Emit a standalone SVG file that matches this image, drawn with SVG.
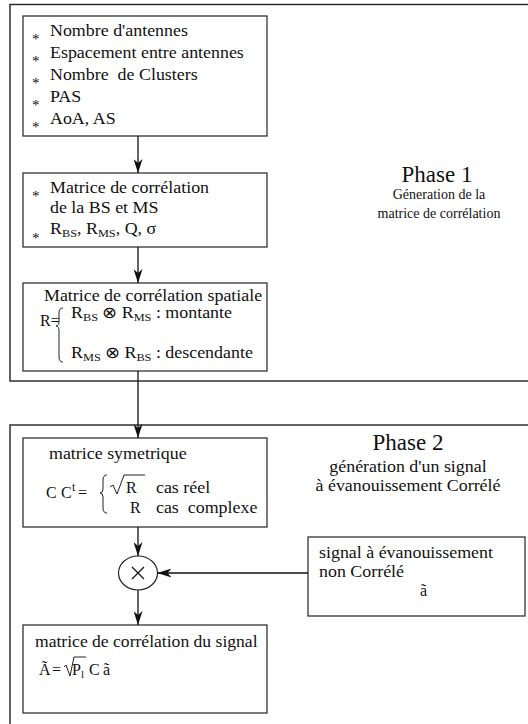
<svg xmlns="http://www.w3.org/2000/svg" width="528" height="724" viewBox="0 0 528 724">
<defs>
<marker id="arr" markerUnits="userSpaceOnUse" markerWidth="14" markerHeight="9" refX="14" refY="4.5" orient="auto">
<path d="M0,0 L14,4.5 L0,9 L4,4.5 z" fill="#111"/>
</marker>
</defs>
<style>
.box{fill:#fff;stroke:#333;stroke-width:1.3}
.outer{fill:none;stroke:#222;stroke-width:1.4}
.t{font-family:"Liberation Serif","Times New Roman",serif;font-size:16px;fill:#111}
.s{font-size:11px}
.b{font-family:"Liberation Serif",serif;font-size:15px;fill:#111}
.title{font-family:"Liberation Serif",serif;font-size:23px;fill:#111;text-anchor:middle}
.sub{font-family:"Liberation Serif",serif;font-size:14px;fill:#111;text-anchor:middle}
.sub2{font-family:"Liberation Serif",serif;font-size:16px;fill:#111;text-anchor:middle}
.ln{fill:none;stroke:#111;stroke-width:1.3}
.br{fill:none;stroke:#222;stroke-width:1}
</style>
<rect width="528" height="724" fill="#fff"/>
<g id="phase1">
<rect class="outer" x="10" y="4.5" width="530" height="376.5"/>
<text class="title" x="437" y="182">Phase 1</text>
<text class="sub" x="439" y="199">Géneration de la</text>
<text class="sub" x="439" y="218">matrice de corrélation</text>
</g>
<g id="phase2">
<rect class="outer" x="10" y="425" width="530" height="330"/>
<text class="title" x="408" y="450">Phase 2</text>
<text class="sub2" x="408" y="472" transform="translate(-48.96 0) scale(1.12 1)">génération d'un signal</text>
<text class="sub2" x="408" y="491" transform="translate(-48.96 0) scale(1.12 1)">à évanouissement Corrélé</text>
</g>
<g id="params">
<rect class="box" x="23" y="16" width="244" height="120"/>
<text class="b" x="32" y="44">*</text><text class="t" x="50" y="36" transform="translate(-6 0) scale(1.12 1)">Nombre d'antennes</text>
<text class="b" x="32" y="66">*</text><text class="t" x="50" y="58" transform="translate(-6 0) scale(1.12 1)">Espacement entre antennes</text>
<text class="b" x="32" y="88">*</text><text class="t" x="50" y="80" xml:space="preserve" transform="translate(-6 0) scale(1.12 1)">Nombre  de Clusters</text>
<text class="b" x="32" y="110">*</text><text class="t" x="50" y="102" transform="translate(-6 0) scale(1.12 1)">PAS</text>
<text class="b" x="32" y="132">*</text><text class="t" x="50" y="124" transform="translate(-6 0) scale(1.12 1)">AoA, AS</text>
</g>
<g id="correlation-bs-ms">
<rect class="box" x="23" y="173" width="244" height="74"/>
<text class="b" x="32" y="201">*</text><text class="t" x="50" y="193" transform="translate(-6 0) scale(1.12 1)">Matrice de corrélation</text>
<text class="t" x="50" y="213" transform="translate(-6 0) scale(1.12 1)">de la BS et MS</text>
<text class="b" x="32" y="243">*</text><text class="t" x="50" y="234" transform="translate(-6 0) scale(1.12 1)">R<tspan class="s" dy="3">BS</tspan><tspan dy="-3">, R</tspan><tspan class="s" dy="3">MS</tspan><tspan dy="-3">, Q, σ</tspan></text>
</g>
<g id="spatial">
<rect class="box" x="23" y="283" width="244" height="88"/>
<text class="t" x="44" y="301" transform="translate(-5.28 0) scale(1.12 1)">Matrice de corrélation spatiale</text>
<text class="t" x="40" y="326">R=</text>
<path class="br" d="M63,308 Q59,308 59,313 L59,321 Q59,326 56,326 Q59,326 59,331 L59,357 Q59,362 63,362"/>
<text class="t" x="71" y="318" transform="translate(-8.52 0) scale(1.12 1)">R<tspan class="s" dy="3">BS</tspan><tspan dy="-3"> ⊗ R</tspan><tspan class="s" dy="3">MS</tspan><tspan dy="-3"> : montante</tspan></text>
<text class="t" x="71" y="358" transform="translate(-8.52 0) scale(1.12 1)">R<tspan class="s" dy="3">MS</tspan><tspan dy="-3"> ⊗ R</tspan><tspan class="s" dy="3">BS</tspan><tspan dy="-3"> : descendante</tspan></text>
</g>
<g id="symetrique">
<rect class="box" x="23" y="438" width="244" height="89"/>
<text class="t" x="49" y="459" transform="translate(-5.88 0) scale(1.12 1)">matrice symetrique</text>
<text class="t" x="46" y="498">C</text>
<text class="t" x="61" y="498">C</text>
<text class="t" x="72" y="491" style="font-size:12px">t</text>
<text class="t" x="78" y="498">=</text>
<path class="br" d="M107,475 Q103,475 103,480 L103,489 Q103,493 100,493 Q103,493 103,497 L103,508 Q103,513 107,513"/>
<path class="br" d="M110,487 L113,485 L117,494 L124,475 L145,475"/>
<text class="t" x="126" y="493">R</text>
<text class="t" x="156" y="493" transform="translate(-18.72 0) scale(1.12 1)">cas réel</text>
<text class="t" x="130" y="513">R</text>
<text class="t" x="156" y="513" xml:space="preserve" transform="translate(-18.72 0) scale(1.12 1)">cas  complexe</text>
</g>
<g id="multiplier">
<ellipse cx="138" cy="573" rx="19.5" ry="17" fill="#fff" stroke="#222" stroke-width="1.2"/>
<path d="M132,567 L144,579 M144,567 L132,579" stroke="#111" stroke-width="1.2"/>
</g>
<g id="uncorrelated">
<rect class="box" x="308" y="537" width="217" height="79"/>
<text class="t" x="319" y="558" transform="translate(-38.28 0) scale(1.12 1)">signal à évanouissement</text>
<text class="t" x="319" y="577" transform="translate(-38.28 0) scale(1.12 1)">non Corrélé</text>
<text class="t" x="420" y="596">ã</text>
</g>
<g id="signal-matrix">
<rect class="box" x="23" y="625" width="244" height="88"/>
<text class="t" x="35" y="647" transform="translate(-3.5 0) scale(1.1 1)">matrice de corrélation du signal</text>
<text class="t" x="39" y="675">Ã</text>
<text class="t" x="52" y="675">=</text>
<path class="br" d="M64,667 L66,665 L70,676 L74,657 L86,657"/>
<text class="t" x="72" y="675">P<tspan class="s" dy="3">l</tspan></text>
<text class="t" x="89" y="675">C</text>
<text class="t" x="103" y="675">ã</text>
</g>
<g id="connectors">
<line class="ln" x1="138" y1="136" x2="138" y2="173" marker-end="url(#arr)"/>
<line class="ln" x1="138" y1="247" x2="138" y2="283" marker-end="url(#arr)"/>
<line class="ln" x1="138" y1="371" x2="138" y2="438" marker-end="url(#arr)"/>
<line class="ln" x1="138" y1="527" x2="138" y2="556" marker-end="url(#arr)"/>
<line class="ln" x1="138" y1="590" x2="138" y2="625" marker-end="url(#arr)"/>
<line class="ln" x1="308" y1="573" x2="157.5" y2="573" marker-end="url(#arr)"/>
</g>
</svg>
